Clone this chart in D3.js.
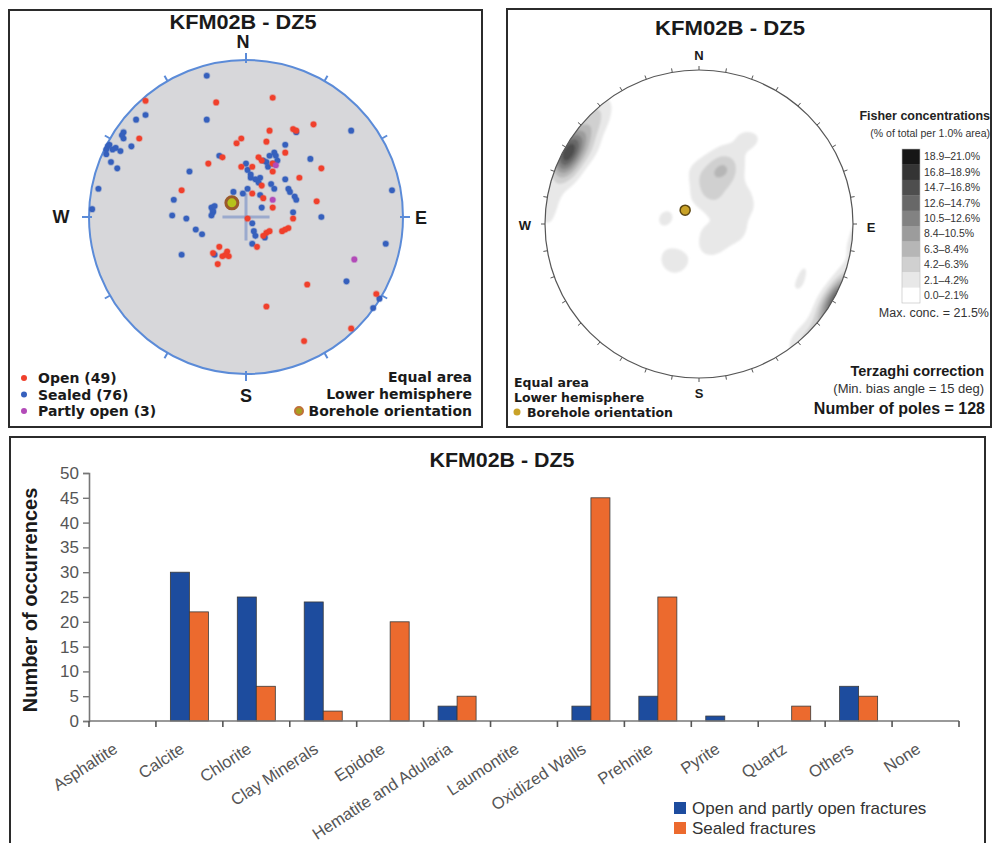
<!DOCTYPE html>
<html><head><meta charset="utf-8">
<script src="https://cdn.jsdelivr.net/npm/d3@7"></script>
<style>
html,body{margin:0;padding:0;background:#fff;}
svg{display:block;font-family:"Liberation Sans",Arial,Helvetica,sans-serif;}
</style></head><body>
<svg id="fig" width="994" height="843"></svg>
<script>
// ---------------- data ----------------
const chartTitle = "KFM02B - DZ5";

// Poles to fractures on a lower-hemisphere equal-area net: [east, north], in % of the primitive radius
const openPoles = [
  [-64,74],[-19,73],[-68,50],[-24,34],[-15,38],[-6,47],[-3,50],[-3,32],[-41,17],[17,76],
  [43,59],[30,56],[15,55],[13,48],[25,41],[8,38],[4,32],[17,34],[17,29],[48,31],
  [10,20],[34,25],[4,15],[11,12],[45,10],[17,6],[30,-1],[1,-1],[13,-10],[15,-9],
  [23,-9],[27,-7],[7,-19],[-17,-19],[-12,-22],[-21,-23],[-15,-25],[-11,-25],[-18,-30],[39,-43],
  [83,-49],[13,-57],[67,-71],[37,-79],[32,55],[11,-12],[-13,-24],[25,-8],[10,36]
];
const sealedPoles = [
  [-25,90],[-25,62],[-70,62],[-64,65],[-78,54],[-78,50],[-88,45],[-89,43],[-83,44],[-80,42],
  [-73,45],[-89,40],[-86,35],[-82,31],[-94,18],[-36,29],[-17,39],[-46,11],[-8,16],[-2,15],
  [1,18],[-98,5],[-47,1],[-22,6],[-21,3],[32,54],[25,46],[18,41],[15,39],[0,34],
  [1,30],[13,35],[17,34],[20,36],[14,32],[41,37],[3,25],[6,24],[9,25],[16,21],
  [18,18],[25,24],[27,18],[9,14],[31,13],[32,11],[10,6],[30,3],[-38,-1],[48,0],
  [4,-4],[-32,-8],[-28,-11],[5,-9],[6,-12],[12,-13],[4,-17],[-41,-24],[-20,-24],[67,55],
  [93,17],[89,-17],[64,-41],[85,-52],[81,-58],[-21,4],[-87,46],[-20,7],[-22,1],[11,36],
  [19,39],[3,27],[28,16],[8,22],[-79,52],[-85,43]
];
const partlyOpenPoles = [[17,11],[69,-27],[19,33]];
const boreholePole = [-9, 9];

const compassLabels = ["N","E","S","W"];

// Fisher concentration classes (% of total per 1.0% area)
const concentrationBreaks = [2.1, 4.2, 6.3, 8.4, 10.5, 12.6, 14.7, 16.8, 18.9];
const concentrationLabels = ["18.9–21.0%","16.8–18.9%","14.7–16.8%","12.6–14.7%","10.5–12.6%",
  "8.4–10.5%","6.3–8.4%","4.2–6.3%","2.1–4.2%","0.0–2.1%"];
const concentrationColors = ["#ffffff","#e8e8e8","#d0d0d0","#b6b6b6","#9c9c9c",
  "#828282","#686868","#4e4e4e","#343434","#161616"];
const maxConcentration = 21.5;
const fisherKappa = 110;
const minBiasAngle = 15;

// Fracture fillings
const minerals = ["Asphaltite","Calcite","Chlorite","Clay Minerals","Epidote","Hematite and Adularia",
  "Laumontite","Oxidized Walls","Prehnite","Pyrite","Quartz","Others","None"];
const openCounts   = [0,30,25,24,0,3,0,3,5,1,0,7,0];
const sealedCounts = [0,22,7,2,20,5,0,45,25,0,3,5,0];
const countTicks = [0,5,10,15,20,25,30,35,40,45,50];
const seriesNames = ["Open and partly open fractures","Sealed fractures"];

// ---------------- drawing ----------------
const svg = d3.select("#fig");
const FONT = "'Liberation Sans',Arial,sans-serif";
const WIDE = "'DejaVu Sans',Verdana,sans-serif";

// panel frames
[[9,10,473,417],[507,9,484,418],[10,437,975,412]].forEach(([x,y,w,h]) => {
  svg.append("rect").attr("x",x).attr("y",y).attr("width",w).attr("height",h)
    .attr("fill","none").attr("stroke","#2b2b2b").attr("stroke-width",2);
});

function title(x, y, len) {
  svg.append("text").attr("x",x).attr("y",y).attr("text-anchor","middle").attr("dy","0.35em")
    .attr("font-weight","bold").attr("font-size",20).attr("fill","#1a1a1a")
    .attr("textLength",len).attr("lengthAdjust","spacingAndGlyphs").text(chartTitle);
}

// ===== Panel 1: pole plot =====
{
  const cx = 246, cy = 217, R = 157;
  const x = d3.scaleLinear().domain([-100,100]).range([cx-R, cx+R]);
  const y = d3.scaleLinear().domain([-100,100]).range([cy+R, cy-R]);
  const g = svg.append("g");
  title(243, 22, 147);

  g.append("circle").attr("cx",cx).attr("cy",cy).attr("r",R)
    .attr("fill","#d7d7da").attr("stroke","#5b8bd8").attr("stroke-width",2);
  d3.range(0,360,30).forEach(a => {
    const r = a*Math.PI/180, card = a % 90 === 0;
    const r0 = card ? R-3 : R, r1 = card ? R+7 : R+6;
    g.append("line")
      .attr("x1",cx+r0*Math.sin(r)).attr("y1",cy-r0*Math.cos(r))
      .attr("x2",cx+r1*Math.sin(r)).attr("y2",cy-r1*Math.cos(r))
      .attr("stroke","#5b8bd8").attr("stroke-width",2);
  });
  const lab = [[243,42],[421,218],[246,396],[61,217]];
  compassLabels.forEach((t,i) => g.append("text").attr("x",lab[i][0]).attr("y",lab[i][1])
    .attr("dy","0.36em").attr("text-anchor","middle").attr("font-weight","bold")
    .attr("font-size",18).attr("fill","#1a1a1a").text(t));

  // centre cross
  g.append("line").attr("x1",x(-15)).attr("x2",x(15)).attr("y1",y(0)).attr("y2",y(0))
    .attr("stroke","#8d9fca").attr("stroke-width",3).attr("opacity",0.8);
  g.append("line").attr("y1",y(-15)).attr("y2",y(15)).attr("x1",x(0)).attr("x2",x(0))
    .attr("stroke","#8d9fca").attr("stroke-width",3).attr("opacity",0.8);

  const sets = [[sealedPoles,"#3660bd"],[openPoles,"#f0402c"],[partlyOpenPoles,"#b34ab8"]];
  sets.forEach(([pts,col]) => {
    g.append("g").selectAll("circle").data(pts).join("circle")
      .attr("cx",d=>x(d[0])).attr("cy",d=>y(d[1])).attr("r",2.8)
      .attr("fill",col).attr("stroke",col).attr("stroke-opacity",0.35).attr("stroke-width",1.6);
  });
  g.append("circle").attr("cx",x(boreholePole[0])).attr("cy",y(boreholePole[1])).attr("r",6)
    .attr("fill","#b6c21a").attr("stroke","#9a5a2c").attr("stroke-width",3);

  // legends
  const leg = [["Open ("+openPoles.length+")","#f0402c"],["Sealed ("+sealedPoles.length+")","#3660bd"],
               ["Partly open ("+partlyOpenPoles.length+")","#b34ab8"]];
  leg.forEach(([t,c],i) => {
    const yy = 378 + i*16.5;
    g.append("circle").attr("cx",24).attr("cy",yy).attr("r",3).attr("fill",c);
    g.append("text").attr("x",38).attr("y",yy).attr("dy","0.36em").attr("font-size",14)
      .attr("font-family",WIDE).attr("font-weight","bold").attr("fill","#1a1a1a").text(t);
  });
  ["Equal area","Lower hemisphere","Borehole orientation"].forEach((t,i) => {
    g.append("text").attr("x",472).attr("y",377+i*17).attr("dy","0.36em").attr("text-anchor","end")
      .attr("font-size",14).attr("font-family",WIDE).attr("font-weight","bold").attr("fill","#1a1a1a").text(t);
  });
  g.append("circle").attr("cx",299).attr("cy",411).attr("r",4)
    .attr("fill","#a8a020").attr("stroke","#c0703a").attr("stroke-width",2);
}

// ===== Panel 2: Fisher concentration contours =====
{
  const cx = 699, cy = 224, R = 154;
  title(730, 28, 150);

  const toVec = ([e,n]) => {
    const r = Math.min(Math.hypot(e,n)/100, 1);
    const th = 2*Math.asin(r/Math.SQRT2), s = Math.sin(th), az = Math.atan2(e,n);
    return [s*Math.sin(az), s*Math.cos(az), -Math.cos(th)];
  };
  const dot = (a,b) => a[0]*b[0]+a[1]*b[1]+a[2]*b[2];
  const bore = toVec(boreholePole);
  const minCos = Math.sin(minBiasAngle*Math.PI/180);
  // Terzaghi weights, capped at the minimum bias angle
  const poles = openPoles.concat(sealedPoles, partlyOpenPoles).map(p => {
    const v = toVec(p);
    return {v, w: 1/Math.max(Math.abs(dot(v,bore)), minCos)};
  });
  const W = d3.sum(poles, p => p.w);
  const k = fisherKappa, norm = k/(2*Math.PI*(1-Math.exp(-2*k)));
  const N = 140, ext = 1.05, cell = 2*ext/N;
  const vals = new Float64Array(N*N);
  // share of the weighted total within 1% of the hemisphere's area, in %
  for (let j=0;j<N;j++) for (let i=0;i<N;i++) {
    const ex = -ext + (i+0.5)*cell, ny = ext - (j+0.5)*cell;
    const u = toVec([ex*100, ny*100]);
    let s = 0;
    for (const p of poles) {
      const c = dot(u,p.v);
      s += p.w*norm*(Math.exp(k*(c-1)) + Math.exp(k*(-c-1)));
    }
    vals[j*N+i] = 100*0.02*Math.PI*s/W;
  }
  const contours = d3.contours().size([N,N]).thresholds(concentrationBreaks)(vals);
  const path = d3.geoPath(d3.geoIdentity().scale(cell*R).translate([cx-ext*R, cy-ext*R]));

  const defs = svg.append("defs");
  defs.append("clipPath").attr("id","netClip").append("circle").attr("cx",cx).attr("cy",cy).attr("r",R);
  defs.append("filter").attr("id","soft").attr("x","-5%").attr("y","-5%").attr("width","110%").attr("height","110%")
    .append("feGaussianBlur").attr("stdDeviation",1.3);

  const g = svg.append("g");
  g.append("circle").attr("cx",cx).attr("cy",cy).attr("r",R).attr("fill","#fff");
  g.append("g").attr("clip-path","url(#netClip)").append("g").attr("filter","url(#soft)")
    .selectAll("path").data(contours).join("path")
    .attr("d",path).attr("fill",(d,i)=>concentrationColors[i+1]);
  g.append("circle").attr("cx",cx).attr("cy",cy).attr("r",R)
    .attr("fill","none").attr("stroke","#555").attr("stroke-width",1.2);
  d3.range(0,360,10).forEach(a => {
    const r = a*Math.PI/180;
    g.append("line")
      .attr("x1",cx+R*Math.sin(r)).attr("y1",cy-R*Math.cos(r))
      .attr("x2",cx+(R+4)*Math.sin(r)).attr("y2",cy-(R+4)*Math.cos(r))
      .attr("stroke","#555").attr("stroke-width",1);
  });
  const lab = [[699,55],[871,227],[699,393],[525,225]];
  compassLabels.forEach((t,i) => g.append("text").attr("x",lab[i][0]).attr("y",lab[i][1])
    .attr("dy","0.36em").attr("text-anchor","middle").attr("font-weight","bold")
    .attr("font-size",13).attr("fill","#1a1a1a").text(t));
  const bx = cx + boreholePole[0]/100*R, by = cy - boreholePole[1]/100*R;
  g.append("circle").attr("cx",bx).attr("cy",by).attr("r",5)
    .attr("fill","#c9a227").attr("stroke","#5a4512").attr("stroke-width",1.5);

  // concentration legend
  g.append("text").attr("x",990).attr("y",116).attr("dy","0.35em").attr("text-anchor","end")
    .attr("font-size",12.5).attr("font-weight","bold").attr("fill","#222").text("Fisher concentrations");
  g.append("text").attr("x",990).attr("y",133).attr("dy","0.35em").attr("text-anchor","end")
    .attr("font-size",10.5).attr("fill","#333").text("(% of total per 1.0% area)");
  const rowH = 15.4, top = 149;
  concentrationLabels.forEach((t,i) => {
    g.append("rect").attr("x",902).attr("y",top+i*rowH).attr("width",18).attr("height",rowH+0.4)
      .attr("fill",concentrationColors[9-i]);
    g.append("text").attr("x",924).attr("y",top+i*rowH+rowH/2).attr("dy","0.35em")
      .attr("font-size",10.5).attr("fill","#333").text(t);
  });
  g.append("rect").attr("x",902).attr("y",top).attr("width",18).attr("height",rowH*10)
    .attr("fill","none").attr("stroke","#bbb").attr("stroke-width",0.6);
  g.append("text").attr("x",989).attr("y",313).attr("dy","0.35em").attr("text-anchor","end")
    .attr("font-size",12.5).attr("fill","#333").text("Max. conc. = " + maxConcentration + "%");

  g.append("text").attr("x",984).attr("y",371).attr("dy","0.35em").attr("text-anchor","end")
    .attr("font-size",14.5).attr("font-weight","bold").attr("fill","#1a1a1a").text("Terzaghi correction");
  g.append("text").attr("x",984).attr("y",388).attr("dy","0.35em").attr("text-anchor","end")
    .attr("font-size",13).attr("fill","#333").text("(Min. bias angle = " + minBiasAngle + " deg)");
  g.append("text").attr("x",985).attr("y",408).attr("dy","0.35em").attr("text-anchor","end")
    .attr("font-size",16).attr("font-weight","bold").attr("fill","#1a1a1a").text("Number of poles = " + poles.length);

  ["Equal area","Lower hemisphere"].forEach((t,i) => {
    g.append("text").attr("x",514).attr("y",382+i*15).attr("dy","0.36em").attr("font-family",WIDE)
      .attr("font-size",12.5).attr("font-weight","bold").attr("fill","#1a1a1a").text(t);
  });
  g.append("circle").attr("cx",517).attr("cy",412).attr("r",3.5).attr("fill","#c9a227");
  g.append("text").attr("x",527).attr("y",412).attr("dy","0.36em").attr("font-family",WIDE)
    .attr("font-size",12.5).attr("font-weight","bold").attr("fill","#1a1a1a").text("Borehole orientation");
}

// ===== Panel 3: fracture filling bar chart =====
{
  const x = d3.scaleBand().domain(minerals).range([89, 959]);
  const xs = d3.scaleBand().domain(seriesNames).range([0, x.bandwidth()]).paddingOuter(0.76);
  const y = d3.scaleLinear().domain([0, 50]).range([721, 473]);
  const colors = ["#1d4c9e","#ec6a2e"];
  const g = svg.append("g");

  g.append("text").attr("x",502).attr("y",460).attr("text-anchor","middle").attr("dy","0.35em")
    .attr("font-weight","bold").attr("font-size",20).attr("fill","#1a1a1a")
    .attr("textLength",145).attr("lengthAdjust","spacingAndGlyphs").text(chartTitle);

  const series = [openCounts, sealedCounts];
  series.forEach((vals, s) => {
    g.append("g").selectAll("rect").data(minerals.map((m,i)=>({m, v: vals[i]})).filter(d=>d.v>0))
      .join("rect")
      .attr("x", d => x(d.m) + xs(seriesNames[s]))
      .attr("y", d => y(d.v))
      .attr("width", xs.bandwidth())
      .attr("height", d => y(0) - y(d.v))
      .attr("fill", colors[s]).attr("stroke","#3a3a3a").attr("stroke-width",0.8);
  });

  const ya = g.append("g").attr("transform","translate(89,0)")
    .call(d3.axisLeft(y).tickValues(countTicks).tickSize(6).tickPadding(4));
  ya.select(".domain").attr("stroke","#777").attr("stroke-width",1.6);
  ya.selectAll(".tick line").attr("stroke","#777").attr("stroke-width",1.4);
  ya.selectAll(".tick text").attr("fill","#555").attr("font-size",17).attr("font-family",FONT);

  // category axis
  g.append("line").attr("x1",89).attr("x2",959).attr("y1",y(0)).attr("y2",y(0))
    .attr("stroke","#777").attr("stroke-width",1.6);
  minerals.map(m => x(m)).concat([x.range()[1]]).forEach(px => {
    g.append("line").attr("x1",px).attr("x2",px).attr("y1",y(0)).attr("y2",y(0)+6)
      .attr("stroke","#555").attr("stroke-width",1.6);
  });
  minerals.forEach(m => {
    const bc = x(m) + x.bandwidth()/2;
    g.append("text").attr("transform",`translate(${bc-7},${747}) rotate(-33)`)
      .attr("text-anchor","end").attr("dy","0.35em").attr("font-size",16.5)
      .attr("fill","#555").text(m);
  });

  g.append("text").attr("transform","translate(30,600) rotate(-90)").attr("text-anchor","middle")
    .attr("dy","0.35em").attr("font-size",20).attr("font-weight","bold").attr("fill","#1a1a1a")
    .text("Number of occurrences");

  seriesNames.forEach((t,i) => {
    g.append("rect").attr("x",674).attr("y",802+i*20).attr("width",12).attr("height",12)
      .attr("fill",colors[i]);
    g.append("text").attr("x",692).attr("y",808+i*20).attr("dy","0.36em")
      .attr("font-size",17).attr("fill","#333").text(t);
  });
}
</script>
</body></html>
